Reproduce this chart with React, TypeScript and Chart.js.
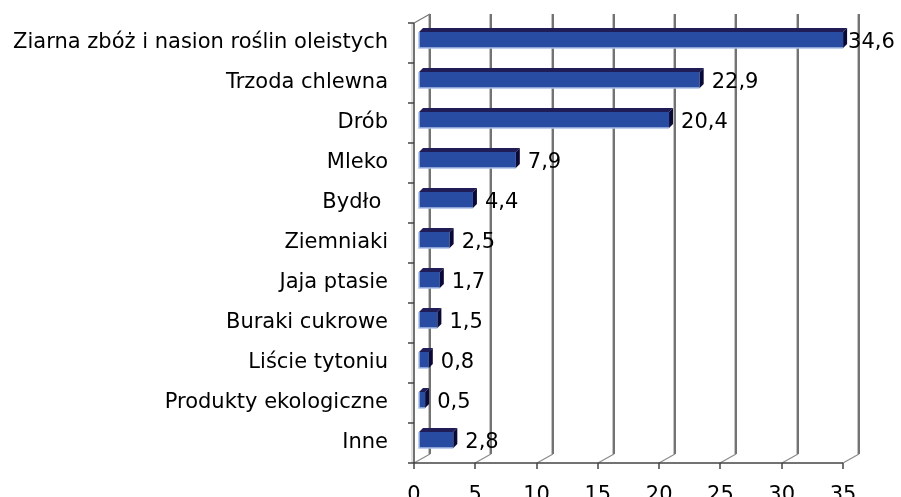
import React, { useEffect, useRef } from "react";
import { Chart, registerables } from "chart.js";

Chart.register(...registerables);

const categories = [
  "Ziarna zbóż i nasion roślin oleistych",
  "Trzoda chlewna",
  "Drób",
  "Mleko",
  "Bydło ",
  "Ziemniaki",
  "Jaja ptasie",
  "Buraki cukrowe",
  "Liście tytoniu",
  "Produkty ekologiczne",
  "Inne",
];
const values = [34.6, 22.9, 20.4, 7.9, 4.4, 2.5, 1.7, 1.5, 0.8, 0.5, 2.8];
const xTicks = [0, 5, 10, 15, 20, 25, 30, 35];

const FONT = "'DejaVu Sans', Verdana, sans-serif";

const threeD = {
  id: "threeD",
  beforeDatasetsDraw(chart: any) {
    const ctx = chart.ctx as CanvasRenderingContext2D;
    const xs = chart.scales.x;
    const area = chart.chartArea;
    const dx = 16;
    const dy = -9;
    ctx.save();
    for (const v of xTicks) {
      const x = Math.round(xs.getPixelForValue(v));
      ctx.lineWidth = 1;
      ctx.strokeStyle = "#c4c4c4";
      ctx.beginPath();
      ctx.moveTo(x + dx - 1.5, area.top + dy);
      ctx.lineTo(x + dx - 1.5, area.bottom + dy);
      ctx.stroke();
      ctx.lineWidth = 1.5;
      ctx.strokeStyle = "#444";
      ctx.beginPath();
      ctx.moveTo(x + dx, area.top + dy);
      ctx.lineTo(x + dx, area.bottom + dy);
      ctx.stroke();
      ctx.lineWidth = 1.2;
      ctx.strokeStyle = "#8a8a8a";
      ctx.beginPath();
      ctx.moveTo(x, area.bottom);
      ctx.lineTo(x + dx, area.bottom + dy);
      ctx.stroke();
    }
    const x0 = Math.round(xs.getPixelForValue(0));
    ctx.lineWidth = 1;
    ctx.strokeStyle = "#c4c4c4";
    ctx.beginPath();
    ctx.moveTo(x0 - 2, area.top);
    ctx.lineTo(x0 - 2, area.bottom);
    ctx.stroke();
    ctx.lineWidth = 1.5;
    ctx.strokeStyle = "#444";
    ctx.beginPath();
    ctx.moveTo(x0, area.top);
    ctx.lineTo(x0, area.bottom);
    ctx.lineTo(area.right, area.bottom);
    ctx.stroke();
    ctx.lineWidth = 1.2;
    ctx.strokeStyle = "#777";
    ctx.beginPath();
    ctx.moveTo(x0, area.top);
    ctx.lineTo(x0 + dx, area.top + dy);
    ctx.stroke();
    ctx.lineWidth = 1.5;
    ctx.strokeStyle = "#444";
    const n = categories.length;
    const step = (area.bottom - area.top) / n;
    for (let i = 0; i <= n; i++) {
      const y = Math.round(area.top + i * step);
      ctx.beginPath();
      ctx.moveTo(x0 - 6, y);
      ctx.lineTo(x0, y);
      ctx.stroke();
    }
    for (const v of xTicks) {
      const x = Math.round(xs.getPixelForValue(v));
      ctx.beginPath();
      ctx.moveTo(x, area.bottom);
      ctx.lineTo(x, area.bottom + 6);
      ctx.stroke();
    }
    ctx.restore();
  },
  afterDatasetsDraw(chart: any) {
    const ctx = chart.ctx as CanvasRenderingContext2D;
    const meta = chart.getDatasetMeta(0);
    const xs = chart.scales.x;
    const d = 4;
    ctx.save();
    meta.data.forEach((el: any, i: number) => {
      const props = el.getProps(["x", "y", "base", "height"], true);
      const left = props.base + 5;
      const right = props.x + 5;
      const h = props.height;
      const top = props.y - 3 - h / 2;
      const bottom = props.y - 3 + h / 2;
      ctx.fillStyle = "#284ca2";
      ctx.fillRect(left, top, right - left, h);
      ctx.strokeStyle = "#a9c0e8";
      ctx.lineWidth = 1.5;
      ctx.beginPath();
      ctx.moveTo(left, top);
      ctx.lineTo(left, bottom);
      ctx.lineTo(right, bottom);
      ctx.stroke();
      ctx.fillStyle = "#1f1c58";
      ctx.beginPath();
      ctx.moveTo(left, top);
      ctx.lineTo(left + d, top - d);
      ctx.lineTo(right + d, top - d);
      ctx.lineTo(right, top);
      ctx.closePath();
      ctx.fill();
      ctx.fillStyle = "#0b0935";
      ctx.beginPath();
      ctx.moveTo(right, top);
      ctx.lineTo(right + d, top - d);
      ctx.lineTo(right + d, bottom - d);
      ctx.lineTo(right, bottom);
      ctx.closePath();
      ctx.fill();
      ctx.fillStyle = "#000";
      ctx.font = `21px ${FONT}`;
      ctx.textAlign = "left";
      ctx.textBaseline = "middle";
      const v = values[i];
      let lx = xs.getPixelForValue(v) + 17;
      if (i === 0) lx = right + d + 1;
      ctx.fillText(v.toFixed(1).replace(".", ","), lx, props.y);
    });
    ctx.restore();
  },
};

export default function App() {
  const ref = useRef<HTMLCanvasElement | null>(null);
  useEffect(() => {
    if (!ref.current) return;
    const chart = new Chart(ref.current, {
      type: "bar",
      data: {
        labels: categories,
        datasets: [
          {
            data: values,
            backgroundColor: "rgba(0,0,0,0)",
            borderWidth: 0,
            barPercentage: 0.4,
            categoryPercentage: 1,
          },
        ],
      },
      options: {
        indexAxis: "y",
        responsive: false,
        animation: false,
        layout: { padding: { top: 23, right: 58, left: 0, bottom: 0 } },
        plugins: {
          legend: { display: false },
          tooltip: { enabled: false },
        },
        scales: {
          x: {
            min: 0,
            max: 35,
            grid: { display: false },
            border: { display: false },
            ticks: {
              stepSize: 5,
              color: "#000",
              font: { family: FONT, size: 21 },
              padding: 12,
              maxRotation: 0,
            },
            afterFit(scale: any) {
              scale.height = 67;
              scale.paddingLeft = 0;
              scale.paddingRight = 0;
            },
          },
          y: {
            grid: { display: false },
            border: { display: false },
            ticks: {
              autoSkip: false,
              color: "#000",
              font: { family: FONT, size: 21 },
              padding: 18,
            },
            afterFit(scale: any) {
              scale.width = 414;
              scale.paddingTop = 0;
              scale.paddingBottom = 0;
            },
          },
        },
      },
      plugins: [threeD],
    });
    return () => chart.destroy();
  }, []);
  return (
    <div
      style={{
        position: "fixed",
        left: 0,
        top: 0,
        width: 901,
        height: 497,
        overflow: "hidden",
        background: "#fff",
      }}
    >
      <canvas ref={ref} width={901} height={530} />
    </div>
  );
}
